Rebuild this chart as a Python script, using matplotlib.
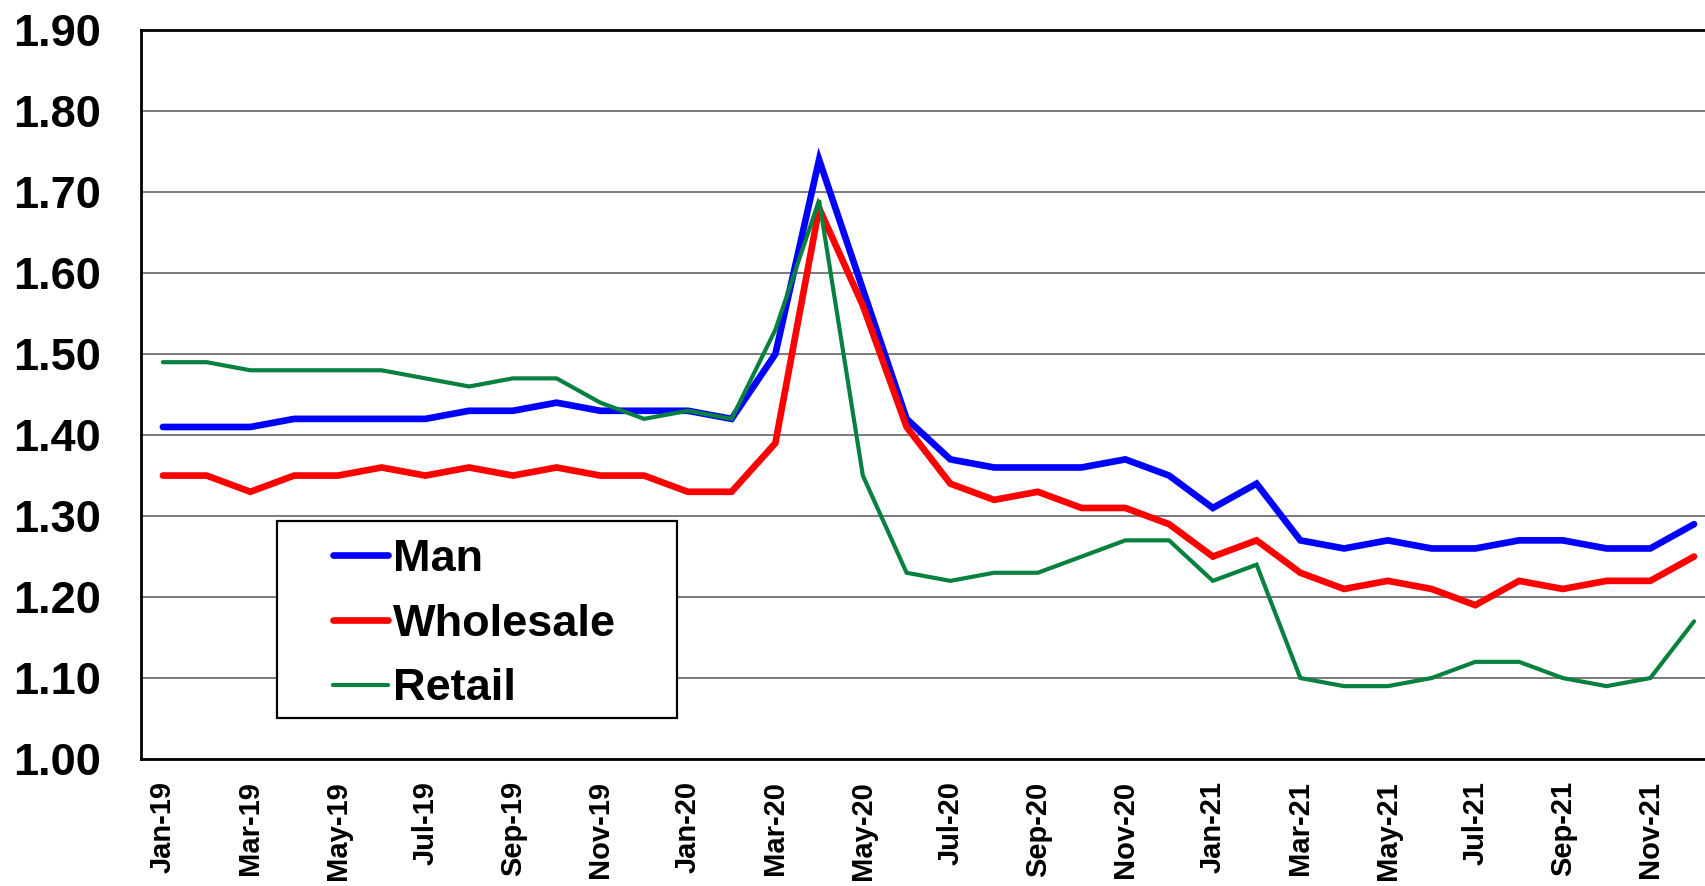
import numpy as np
import pandas as pd
import matplotlib
matplotlib.use("Agg")
import matplotlib.pyplot as plt
from matplotlib.patches import Rectangle

plt.rcParams['font.family'] = ['Liberation Sans', 'DejaVu Sans']
plt.rcParams['font.weight'] = 'bold'

months = list(pd.date_range('2019-01-01', periods=36, freq='MS').strftime('%b-%y'))

man = [1.41, 1.41, 1.41, 1.42, 1.42, 1.42, 1.42, 1.43, 1.43, 1.44, 1.43, 1.43,
       1.43, 1.42, 1.50, 1.74, 1.58, 1.42, 1.37, 1.36, 1.36, 1.36, 1.37, 1.35,
       1.31, 1.34, 1.27, 1.26, 1.27, 1.26, 1.26, 1.27, 1.27, 1.26, 1.26, 1.29]
wholesale = [1.35, 1.35, 1.33, 1.35, 1.35, 1.36, 1.35, 1.36, 1.35, 1.36, 1.35, 1.35,
             1.33, 1.33, 1.39, 1.68, 1.56, 1.41, 1.34, 1.32, 1.33, 1.31, 1.31, 1.29,
             1.25, 1.27, 1.23, 1.21, 1.22, 1.21, 1.19, 1.22, 1.21, 1.22, 1.22, 1.25]
retail = [1.49, 1.49, 1.48, 1.48, 1.48, 1.48, 1.47, 1.46, 1.47, 1.47, 1.44, 1.42,
          1.43, 1.42, 1.53, 1.69, 1.35, 1.23, 1.22, 1.23, 1.23, 1.25, 1.27, 1.27,
          1.22, 1.24, 1.10, 1.09, 1.09, 1.10, 1.12, 1.12, 1.10, 1.09, 1.10, 1.17]

y_ticks = [1.00, 1.10, 1.20, 1.30, 1.40, 1.50, 1.60, 1.70, 1.80, 1.90]

fig = plt.figure(figsize=(17.05, 8.86), dpi=100)
ax = fig.add_axes([0.0827, 0.1433, 1 - 0.0827, 0.966 - 0.1433])

x = np.arange(len(months))
ax.plot(x, man, color='#0000ff', lw=4.8, solid_capstyle='round', solid_joinstyle='miter', label='Man', zorder=3)
ax.plot(x, wholesale, color='#ff0000', lw=4.8, solid_capstyle='round', solid_joinstyle='miter', label='Wholesale', zorder=3)
ax.plot(x, retail, color='#08803f', lw=3.0, solid_capstyle='round', solid_joinstyle='miter', label='Retail', zorder=3)

ax.set_xlim(-0.5, 35.25)
ax.set_ylim(1.0, 1.9)
ax.set_yticks(y_ticks)
ax.set_yticklabels([f"{v:.2f}" for v in y_ticks], fontsize=32.5, fontweight='bold')
ax.set_xticks(x[::2])
ax.set_xticklabels(months[::2], rotation=90, fontsize=21, fontweight='bold')
ax.tick_params(axis='y', length=0, pad=29)
ax.tick_params(axis='x', length=0, pad=16)

ax.grid(axis='y', color='#707070', lw=1.3, zorder=1)
ax.set_axisbelow(True)
for side in ['left', 'bottom', 'top']:
    ax.spines[side].set_linewidth(2)
    ax.spines[side].set_color('black')
ax.spines['right'].set_visible(False)

# legend frame drawn separately, wider than its contents like the original
box = Rectangle((0.1625, 0.1896), 0.2346, 0.2223, transform=fig.transFigure,
                facecolor='white', edgecolor='black', lw=1.6, zorder=5)
ax.add_patch(box)
box.set_clip_on(False)

leg = ax.legend(loc='center left', bbox_to_anchor=(0.1955, 0.2957),
                bbox_transform=fig.transFigure, frameon=False, fontsize=32.5,
                handlelength=1.22, handletextpad=0.1, labelspacing=0.53,
                borderpad=0, borderaxespad=0)
leg.set_zorder(6)
for t in leg.get_texts():
    t.set_fontweight('bold')

fig.savefig('out.png', dpi=100)
